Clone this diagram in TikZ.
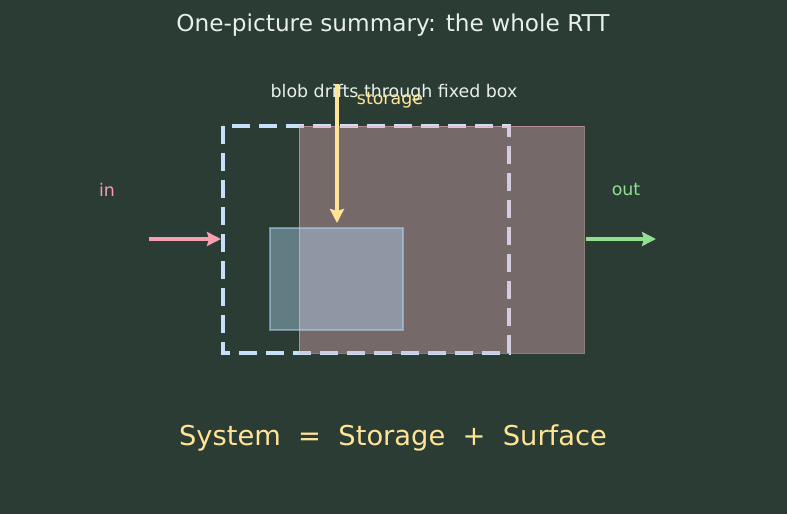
\documentclass[tikz,border=0pt]{standalone}
\usepackage{fontspec}
\setmainfont{DejaVu Sans}
\usetikzlibrary{arrows.meta}
\definecolor{bg}{RGB}{43,60,53}
\definecolor{titlec}{RGB}{232,240,232}
\definecolor{pinkc}{RGB}{244,160,176}
\definecolor{greenc}{RGB}{144,224,144}
\definecolor{yellowc}{RGB}{255,228,150}
\definecolor{dashc}{RGB}{197,224,248}
\definecolor{blobc}{RGB}{230,175,185}
\definecolor{boxc}{RGB}{180,220,250}
\tikzset{
  flow/.style={line width=3.5pt,-{Stealth[length=14pt,width=14pt,inset=2pt]}},
  lbl/.style={inner sep=0pt,font=\fontsize{17.4}{20}\selectfont},
}
\begin{document}
\begin{tikzpicture}[x=1pt,y=-1pt]
\fill[bg] (0,0) rectangle (787,514);
\useasboundingbox (0,0) rectangle (787,514);
\node[inner sep=0pt,text=titlec,font=\fontsize{23.2}{26}\selectfont] (title) at (393,25.5) {One-picture summary: the whole RTT};
% fixed dashed control volume
\draw[dashc,line width=3.8pt,dash pattern=on 18pt off 9pt] (223,126) rectangle (509,353);
\coordinate (cvW) at (221,239);
% drifting blob
\fill[blobc,fill opacity=0.4] (299,126) rectangle (584,353);
\draw[blobc,opacity=0.55,line width=1pt] (299,126) rectangle (584,353);
\coordinate (blobE) at (586,239);
% storage box
\fill[boxc,fill opacity=0.4] (270,228) rectangle (403,330);
\draw[boxc,opacity=0.5,line width=1.3pt] (270,228) rectangle (403,330);
\coordinate (boxN) at (337,223);
\node[lbl,text=titlec] (cap) at (394,93) {blob drifts through fixed box};
\node[lbl,text=yellowc] (stor) at (390,100) {storage};
\coordinate (storTop) at (337,84);
\draw[flow,yellowc] (storTop) -- (boxN);
\node[lbl,text=pinkc] (in) at (107,190) {in};
\node[lbl,text=greenc] (out) at (626,190) {out};
\coordinate (inStart) at (149,239);
\coordinate (outEnd) at (656,239);
\draw[flow,pinkc] (inStart) -- (cvW);
\draw[flow,greenc] (blobE) -- (outEnd);
\node[inner sep=0pt,text=yellowc,font=\fontsize{27.3}{31}\selectfont] (eq) at (393,437.5) {System\ \ =\ \ Storage\ \ +\ \ Surface};
\end{tikzpicture}
\end{document}
